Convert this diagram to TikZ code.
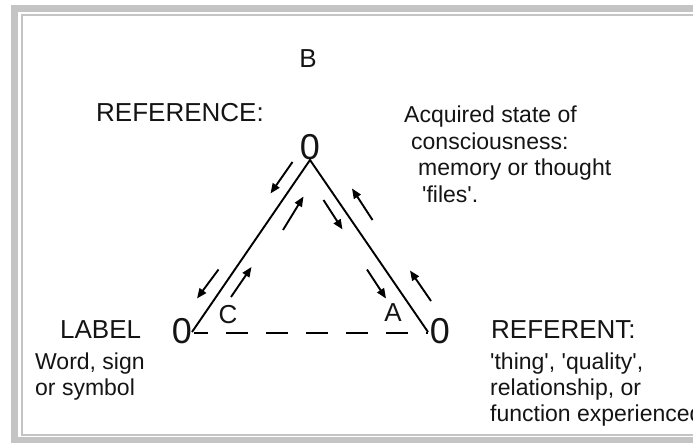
\documentclass[tikz,border=0pt]{standalone}
\usepackage{fontspec}
\setmainfont{Liberation Sans}
\usetikzlibrary{arrows.meta}
\definecolor{txt}{RGB}{20,20,20}
\definecolor{framegray}{RGB}{196,196,196}
\newcommand{\sq}{\textquotesingle}
\tikzset{
  head/.style={font=\fontsize{26}{28}\selectfont, text=txt, inner sep=0pt, anchor=base west},
  body/.style={font=\fontsize{23}{25}\selectfont, text=txt, inner sep=0pt, anchor=base west},
  zero/.style={font=\fontsize{36}{36}\selectfont, text=txt, inner sep=0pt},
  flow/.style={line width=1.9pt, -{Triangle[length=10pt,width=8pt]}},
}

\begin{document}
\begin{tikzpicture}[x=1pt,y=-1pt]
    \useasboundingbox (0,0) rectangle (693,443);
    \clip (0,0) rectangle (693,443);
    % frame
    \draw[framegray, line width=6.5pt] (14.5,8.5) rectangle (720,440.5);
    \draw[framegray, line width=2pt] (22,15.5) rectangle (712,434.5);

    % corners of the triangle
    \node[zero] (topzero) at (310,147) {0}; \node[zero] (leftzero) at
    (182,331) {0}; \node[zero] (rightzero) at (440,331) {0};
    \coordinate (apex) at (310,160); \coordinate (cornerL) at (192,332);
    \coordinate (cornerR) at (428,332);
    \draw[line width=1.9pt] (cornerL) -- (apex) -- (cornerR);
    % dashed base
    \draw[line width=1.9pt, dash pattern=on 22pt off 18pt, dash phase=8pt]
    (194,333) -- (428,333);

    % arrows along the sides
    \draw[flow] (292.5,162) -- (270.5,193.5); \draw[flow] (283,230) --
    (303.5,196.5); \draw[flow] (323.5,200) -- (342.5,229.5);
    \draw[flow] (372.5,220) -- (352,188.5);
    \draw[flow] (218.5,269.5) -- (197,298.5); \draw[flow] (231,297) --
    (251.5,267); \draw[flow] (367,269.5) -- (386,298.5);
    \draw[flow] (431,301) -- (410,270.5);

    % side letters
    \node[head, anchor=center] (sideC) at (228,315) {C};
    \node[head, anchor=center] (sideA) at (393,313) {A};
    \node[head, anchor=base] (title) at (308,68) {B};

    % labels
    \node[head] (reflabel) at (96,122) {REFERENCE:};
    \node[body] (acq1) at (404,123) {Acquired state of};
    \node[body] (acq2) at (411,150) {consciousness:};
    \node[body] (acq3) at (418,176) {memory or thought};
    \node[body] (acq4) at (422,203) {\sq files\sq.};

    \node[head] (labellabel) at (60,339) {LABEL};
    \node[body] (word1) at (35,370) {Word, sign};
    \node[body] (word2) at (35,395) {or symbol};

    \node[head] (referent) at (491,339) {REFERENT:};
    \node[body] (thing1) at (490,370) {\sq thing\sq, \sq quality\sq,};
    \node[body] (thing2) at (490,395) {relationship, or};
    \node[body] (thing3) at (490,421) {function experienced};

\end{tikzpicture}
\end{document}
